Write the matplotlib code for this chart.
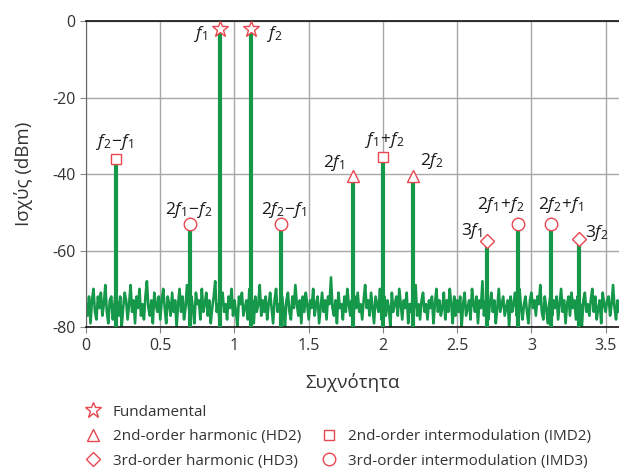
import numpy as np
import matplotlib.pyplot as plt
from matplotlib.lines import Line2D

plt.rcParams['font.family'] = ['Open Sans', 'DejaVu Sans']
plt.rcParams['mathtext.fontset'] = 'custom'
plt.rcParams['mathtext.it'] = 'Open Sans:italic'
plt.rcParams['mathtext.rm'] = 'Open Sans'
plt.rcParams['axes.unicode_minus'] = False

green = '#16984a'
red = '#e8474f'

# noise floor (dBm), evenly spaced over 0..3.6
noise = [
    -74, -77, -72, -79, -73, -70, -76, -78, -72, -75,
    -71, -77, -74, -69, -76, -79, -73, -72, -78, -75,
    -70, -74, -77, -72, -80, -75, -71, -73, -78, -74,
    -69, -76, -73, -79, -72, -75, -70, -77, -74, -78,
    -72, -68, -75, -77, -73, -79, -71, -74, -76, -72,
    -78, -73, -70, -75, -79, -72, -74, -77, -71, -76,
    -73, -80, -74, -70, -76, -72, -78, -75, -69, -74,
    -77, -72, -75, -79, -71, -74, -73, -78, -70, -76,
    -74, -71, -77, -73, -79, -75, -72, -68, -76, -74,
    -79, -73, -71, -76, -74, -78, -72, -75, -70, -77,
    -73, -76, -80, -72, -74, -71, -77, -75, -73, -78,
    -70, -75, -73, -79, -72, -76, -74, -69, -77, -73,
    -76, -72, -78, -74, -71, -75, -79, -73, -70, -76,
    -74, -77, -72, -75, -80, -73, -71, -76, -78, -72,
    -75, -69, -74, -77, -73, -79, -72, -76, -71, -74,
    -78, -73, -75, -70, -77, -74, -72, -79, -75, -71,
    -76, -73, -78, -72, -74, -67, -75, -77, -73, -79,
    -71, -75, -74, -78, -72, -76, -70, -74, -77, -73,
    -79, -72, -75, -71, -76, -74, -78, -73, -69, -75,
    -73, -77, -71, -75, -79, -72, -74, -76, -70, -78,
    -74, -72, -77, -73, -75, -80, -71, -76, -74, -72,
    -77, -70, -74, -78, -73, -75, -71, -79, -74, -76,
    -72, -75, -69, -77, -74, -78, -73, -71, -76, -74,
    -78, -73, -75, -72, -79, -74, -70, -76, -73, -77,
    -75, -71, -78, -73, -76, -70, -74, -79, -72, -77,
    -73, -76, -72, -80, -74, -71, -77, -75, -73, -78,
    -70, -74, -76, -72, -79, -73, -75, -68, -77, -74,
    -72, -78, -74, -71, -76, -73, -79, -75, -70, -76,
    -74, -72, -77, -75, -73, -80, -72, -76, -74, -71,
    -77, -73, -70, -75, -78, -74, -72, -76, -79, -73,
    -71, -75, -73, -77, -72, -74, -69, -76, -78, -72,
    -75, -79, -74, -71, -77, -73, -75, -72, -78, -74,
    -70, -76, -73, -79, -74, -72, -77, -71, -75, -73,
    -78, -72, -75, -74, -80, -73, -71, -76, -74, -77,
    -73, -70, -76, -72, -78, -75, -73, -79, -71, -74,
    -76, -73, -72, -77, -74, -69, -75, -78, -73, -76,
    -74,
]
noise_freq = np.linspace(0, 3.6, len(noise))

# tones
fund_f = [0.9, 1.11]
fund_p = [-2, -2]
hd2_f = [1.8, 2.2]
hd2_p = [-40.5, -40.5]
hd3_f = [2.7, 3.32]
hd3_p = [-57.5, -57]
imd2_f = [0.2, 2.0]
imd2_p = [-36, -35.5]
imd3_f = [0.7, 1.31, 2.91, 3.13]
imd3_p = [-53, -53, -53, -53]

labels = [
    ('$f_1$', 0.77, -3.5),
    ('$f_2$', 1.27, -3.5),
    ('$f_2\\!-\\!f_1$', 0.19, -31.5),
    ('$2f_1\\!-\\!f_2$', 0.69, -49.5),
    ('$2f_2\\!-\\!f_1$', 1.33, -49.5),
    ('$2f_1$', 1.67, -37),
    ('$f_1\\!+\\!f_2$', 2.01, -31),
    ('$2f_2$', 2.33, -36.5),
    ('$3f_1$', 2.6, -55),
    ('$2f_1\\!+\\!f_2$', 2.79, -48),
    ('$2f_2\\!+\\!f_1$', 3.2, -48),
    ('$3f_2$', 3.44, -55.5),
]

fig = plt.figure(figsize=(6.19, 4.68), dpi=100)
ax = fig.add_axes([0.139, 0.301, 0.861, 0.654])

ax.plot(noise_freq, noise, color=green, lw=1.9, zorder=2)

for f, p in [(fund_f, fund_p), (hd2_f, hd2_p), (hd3_f, hd3_p),
             (imd2_f, imd2_p), (imd3_f, imd3_p)]:
    ax.vlines(f, -80, p, color=green, lw=3, zorder=3)

mk = dict(ls='none', mfc='white', mec=red, mew=1.0, zorder=4)
ax.plot(fund_f, fund_p, marker='*', ms=12, label='Fundamental', **mk)
ax.plot(hd2_f, hd2_p, marker='^', ms=9, label='2nd-order harmonic (HD2)', **mk)
ax.plot(hd3_f, hd3_p, marker='D', ms=7.5, label='3rd-order harmonic (HD3)', **mk)
ax.plot(imd2_f, imd2_p, marker='s', ms=7.5, label='2nd-order intermodulation (IMD2)', **mk)
ax.plot(imd3_f, imd3_p, marker='o', ms=9, label='3rd-order intermodulation (IMD3)', **mk)

for txt, x, y in labels:
    ax.text(x, y, txt, ha='center', va='center', fontsize=12.5, color='#1a1a1a')

ax.set_xlim(0, 3.59)
ax.set_ylim(-80, 0)
ax.set_xticks([0, 0.5, 1, 1.5, 2, 2.5, 3, 3.5])
ax.set_xticklabels(['0', '0.5', '1', '1.5', '2', '2.5', '3', '3.5'])
ax.set_yticks([0, -20, -40, -60, -80])
ax.grid(True, color='#a8a8a8', lw=1)
ax.set_axisbelow(True)
ax.tick_params(colors='#888888', labelcolor='#333333', labelsize=11.5, length=4)

for s in ['top', 'bottom']:
    ax.spines[s].set_color('#111111')
    ax.spines[s].set_linewidth(1.2)
ax.spines['left'].set_color('#666666')
ax.spines['right'].set_visible(False)

ax.set_xlabel('Συχνότητα', fontsize=13.5, color='#333333', labelpad=14)
ax.set_ylabel('Ισχύς (dBm)', fontsize=13.5, color='#333333', labelpad=14)

h = {l.get_label(): l for l in ax.get_lines() if not l.get_label().startswith('_')}
blank = Line2D([], [], ls='none', label=' ')
order = ['Fundamental', '2nd-order harmonic (HD2)', '3rd-order harmonic (HD3)']
order2 = ['2nd-order intermodulation (IMD2)', '3rd-order intermodulation (IMD3)']
handles = [h[k] for k in order] + [blank] + [h[k] for k in order2]
leg = fig.legend(handles=handles, labels=order + [''] + order2, ncol=2,
                 loc='upper left', bbox_to_anchor=(0.128, 0.148), frameon=False,
                 fontsize=11, handlelength=1.0, handletextpad=0.8,
                 columnspacing=1.3, labelspacing=0.62, borderaxespad=0)
for t in leg.get_texts():
    t.set_color('#333333')

fig.savefig('out.png', dpi=100)
